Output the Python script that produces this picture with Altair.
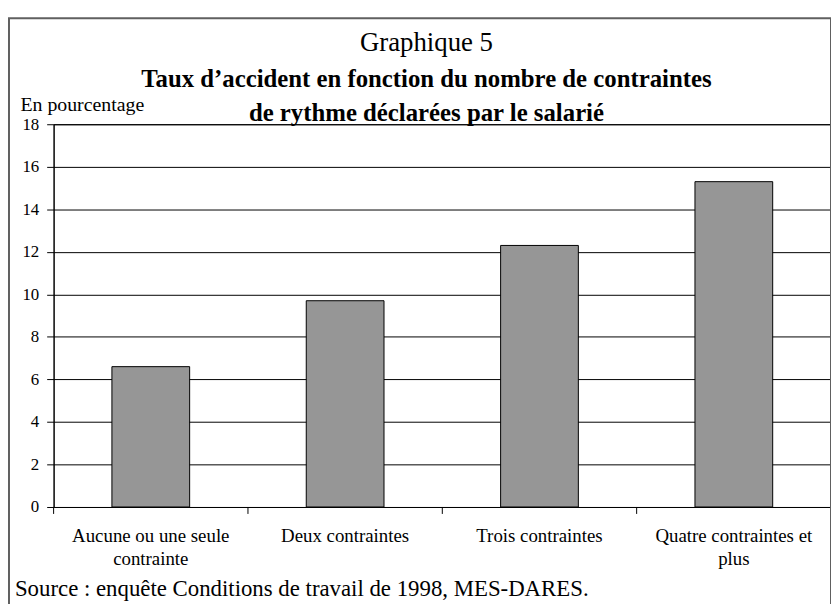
import altair as alt
import pandas as pd

# ---- data ----
categories = [
    "Aucune ou une seule contrainte",
    "Deux contraintes",
    "Trois contraintes",
    "Quatre contraintes et plus",
]
values = [6.6, 9.7, 12.3, 15.3]
label_lines = [
    ["Aucune ou une seule", "contrainte"],
    ["Deux contraintes"],
    ["Trois contraintes"],
    ["Quatre contraintes et", "plus"],
]
y_ticks = [0, 2, 4, 6, 8, 10, 12, 14, 16, 18]
title_line1 = "Graphique 5"
title_line2 = "Taux d’accident en fonction du nombre de contraintes"
title_line3 = "de rythme déclarées par le salarié"
y_unit = "En pourcentage"
source_note = "Source : enquête Conditions de travail de 1998, MES-DARES."

FONT = "Liberation Serif"
W, H = 784, 386
PAD_LEFT, PAD_TOP = 46, 114.7
PAD_BOTTOM = 596 - PAD_TOP - H

df = pd.DataFrame({"cat": categories, "value": values})

# multi-line labels via labelExpr
expr = "datum.value"
for cat, lines in reversed(list(zip(categories, label_lines))):
    arr = "[" + ",".join("'" + l + "'" for l in lines) + "]"
    expr = f"datum.value == '{cat}' ? {arr} : ({expr})"

x_enc = alt.X(
    "cat:N",
    sort=categories,
    scale=alt.Scale(paddingInner=0, paddingOuter=0),
    axis=alt.Axis(
        title=None,
        labelAngle=0,
        labelExpr=expr,
        ticks=False,
        domainColor="black",
        labelFont=FONT,
        labelFontSize=19,
        labelColor="black",
        labelLineHeight=23,
        labelPadding=20,
        labelLimit=0,
        labelOverlap=False,
    ),
)
y_enc = alt.Y(
    "value:Q",
    scale=alt.Scale(domain=[0, 18], nice=False, zero=True),
    axis=alt.Axis(
        values=y_ticks,
        title=y_unit,
        titleAngle=0,
        titleX=-34,
        titleY=-20,
        titleAlign="left",
        titleBaseline="middle",
        titleFont=FONT,
        titleFontSize=20,
        titleFontWeight="normal",
        titleColor="black",
        grid=True,
        gridColor="black",
        gridOpacity=1,
        gridWidth=1,
        tickSize=7,
        tickColor="black",
        domainColor="black",
        labelFont=FONT,
        labelFontSize=17,
        labelColor="black",
        labelPadding=8,
    ),
)

bars = alt.Chart(df).mark_bar(
    color="#969696", stroke="black", strokeWidth=1, width={"band": 0.4}
).encode(x=x_enc, y=y_enc)

ticks = alt.Chart(df).mark_rule(color="black", strokeWidth=1).encode(
    x=alt.X("cat:N", sort=categories, bandPosition=0),
    y=alt.value(H),
    y2=alt.value(H + 7),
)

one = pd.DataFrame({"k": [0]})

frame = alt.Chart(one).mark_rect(
    fillOpacity=0, stroke="#606060", strokeWidth=2
).encode(
    x=alt.value(-45), x2=alt.value(W), y=alt.value(-107), y2=alt.value(H + 130)
)

def text_layer(txt, x, y, size, weight="normal", align="center"):
    return alt.Chart(pd.DataFrame({"t": [txt]})).mark_text(
        font=FONT, fontSize=size, fontWeight=weight, color="black",
        align=align, baseline="middle",
    ).encode(text="t:N", x=alt.value(x), y=alt.value(y))

t1 = text_layer(title_line1, 376, 41 - 122.7, 27)
t2 = text_layer(title_line2, 376, 77 - 122.7, 25, "bold")
t3 = text_layer(title_line3, 376, 111 - 122.7, 25, "bold")
src = text_layer(source_note, -39, 591 - 122.7, 23, align="left")

chart = alt.layer(frame, bars, ticks, t1, t2, t3, src).properties(
    width=W,
    height=H,
    autosize=alt.AutoSizeParams(type="none"),
    padding={"left": PAD_LEFT, "top": PAD_TOP, "right": 0, "bottom": PAD_BOTTOM},
    background="white",
).configure_view(stroke="black", strokeWidth=1)

chart.save("out.html", embed_options={"renderer": "svg", "actions": False})
